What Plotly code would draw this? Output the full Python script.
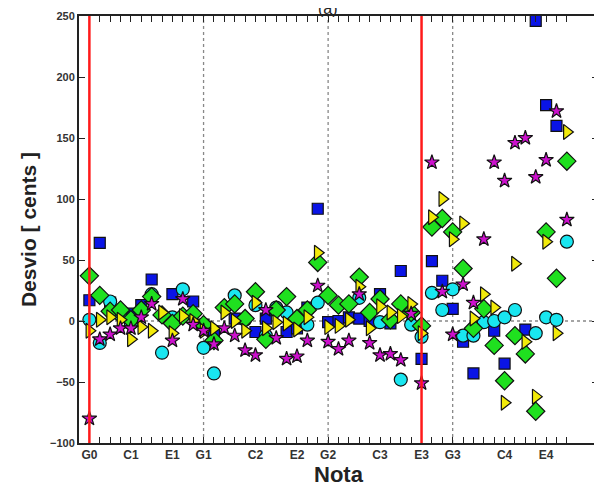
import plotly.graph_objects as go

# Note positions (index along the x axis) and labels
note_index = list(range(47))
tick_positions = [0, 4, 8, 11, 16, 20, 23, 28, 32, 35, 40, 44]
tick_names = ["G0", "C1", "E1", "G1", "C2", "E2", "G2", "C3", "E3", "G3", "C4", "E4"]

N = None
blue_sq = [17, 64, 15, N, 6, 13, 34, N, 22, N, 16, -3, -10, N, 2, N, -9, 2, N, -9,
           -6, 11, 92, -1, 0, 3, 2, 0, 22, -2, 41, N, -31, 49, 33, 10, -17, -43, N, -8,
           -35, N, -7, 246, 177, 160, N]
cyan_circ = [1, -18, 16, 5, -2, N, 22, -26, 3, 26, N, -22, -43, N, 21, 1, 13, -12, 11, 7,
             N, -3, 15, N, N, N, 19, N, -1, N, -48, -3, -13, 23, 9, 26, -12, -12, -1, 0,
             3, 9, N, -10, 3, 1, 65]
green_diam = [37, 21, 8, 9, 1, 9, 20, 5, -2, 4, 6, -3, -16, 11, 14, 2, 24, -15, 9, 20,
              2, 9, 48, 21, 13, 14, 36, 7, 18, 1, 14, 7, -4, 77, 84, 73, 43, -6, 10, -20,
              -49, -12, -27, -74, 73, 35, 131]
yellow_tri = [-8, 1, 3, 1, -15, -5, -8, 7, -10, 4, 0, -8, -6, 7, 0, -8, 15, -6, -1, -2,
              -7, 3, 56, -5, -4, 1, 28, -6, 12, 7, 4, 14, -10, 85, 100, 67, 80, 2, 22, 11,
              -67, 47, -17, -62, 65, -10, 155]
magenta_star = [-80, -15, -11, -6, -6, 3, 14, N, -16, 18, -3, -8, -19, -6, -12, -24, -28, 9, -14, -31,
                -29, -16, 29, -17, -23, -16, 22, -18, -28, -27, -32, 6, -51, 130, 24, -11, 30, 15, 67, 130,
                115, 146, 150, 118, 132, 172, 83]

red_lines = [0, 32]
dotted_lines = [11, 23, 35]

fig = go.Figure()

series = [
    (blue_sq, "square", "#0a14e6", 11),
    (cyan_circ, "circle", "#19e6f0", 13),
    (green_diam, "diamond", "#1fe01f", 14),
    (yellow_tri, "triangle-right", "#f2ea0a", 13),
    (magenta_star, "star", "#cc10cc", 11),
]
for vals, sym, col, size in series:
    fig.add_trace(go.Scatter(
        x=note_index, y=vals, mode="markers",
        marker=dict(symbol=sym, color=col, size=size,
                    line=dict(color="#111111", width=1.2)),
        showlegend=False, cliponaxis=False,
    ))

shapes = []
for xv in dotted_lines:
    shapes.append(dict(type="line", xref="x", yref="y", x0=xv, x1=xv, y0=-100, y1=250,
                       line=dict(color="#888888", width=1.3, dash="dot"), layer="below"))
shapes.append(dict(type="line", xref="paper", yref="y", x0=0, x1=1, y0=0, y1=0,
                   line=dict(color="#888888", width=1.3, dash="dot"), layer="below"))
for xv in red_lines:
    shapes.append(dict(type="line", xref="x", yref="y", x0=xv, x1=xv, y0=-100, y1=250,
                       line=dict(color="#ff1a1a", width=2.5), layer="above"))

tickvals = note_index
ticktext = [tick_names[tick_positions.index(i)] if i in tick_positions else "" for i in note_index]

# The page body adds an 8px offset, so the figure is sized to fit the window.
fig.update_layout(
    width=594, height=481,
    margin=dict(l=71, r=4, t=8, b=46, autoexpand=False),
    paper_bgcolor="white", plot_bgcolor="white",
    shapes=shapes,
    font=dict(family="Liberation Sans, Arial, sans-serif", color="#222222"),
    xaxis=dict(
        range=[-1, 49], tickmode="array", tickvals=tickvals, ticktext=ticktext,
        ticks="inside", ticklen=6, tickwidth=1.3, tickcolor="#222222",
        showgrid=False, zeroline=False, showline=True, linecolor="#222222", linewidth=2,
        mirror="ticks", automargin=False,
        tickfont=dict(size=12, weight="bold", color="#333333"),
        title=dict(text="Nota", font=dict(size=22, weight="bold", color="#222222"), standoff=0),
    ),
    yaxis=dict(
        range=[-100, 250], tickmode="array", tickvals=[-100, -50, 0, 50, 100, 150, 200, 250],
        ticks="inside", ticklen=6, tickwidth=1.3, tickcolor="#222222",
        showgrid=False, zeroline=False, showline=True, linecolor="#222222", linewidth=2,
        mirror="ticks", automargin=False,
        tickfont=dict(size=11, weight="bold", color="#333333"),
        title=dict(text="Desvio [ cents ]", font=dict(size=21, weight="bold", color="#222222"), standoff=8),
    ),
    annotations=[dict(text="(a)", xref="paper", yref="paper", x=0.48, y=1.0187,
                      xanchor="center", yanchor="middle", showarrow=False,
                      font=dict(size=16, color="#222222"))],
)

fig.write_html("out.html")
